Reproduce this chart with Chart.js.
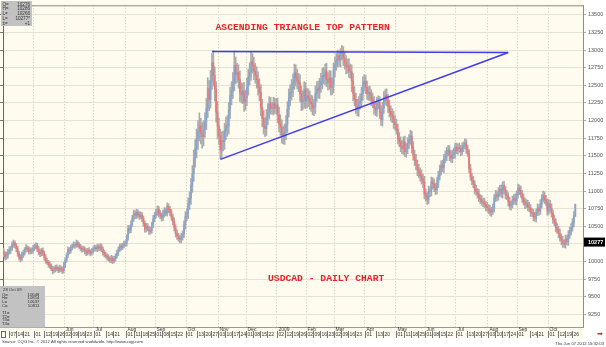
<!DOCTYPE html>
<html><head><meta charset="utf-8">
<script src="https://cdn.jsdelivr.net/npm/chart.js@4.4.1/dist/chart.umd.min.js"></script>
<style>html,body{margin:0;padding:0;background:#fff;}canvas{display:block;}</style>
</head><body>
<canvas id="c" width="606" height="347"></canvas>
<script>
// ---- DATA (USDCAD daily, Apr 2008 - Oct 2009) ----
const firstDay = '2008-04-01';
const lastDay = '2009-10-28';
const holidays = ['2008-12-25', '2009-01-01'];
const emptySlots = 5;

const opens = [
10150,10110,10060,10090,10140,10160,10190,10240,10270,10230,10180,10120,10060,10040,10100,10120,10170,10200,10180,10140,10160,10150,
10190,10210,10230,10180,10130,10110,10160,10120,10060,10010,9990,9960,9940,9900,9870,9890,9920,9900,9880,9910,9890,9870,
9950,10020,10090,10170,10150,10200,10220,10240,10230,10270,10240,10210,10190,10170,10180,10150,10120,10160,10140,10120,10150,
10180,10200,10180,10210,10190,10220,10170,10130,10100,10080,10060,10040,10020,10050,10010,10040,10080,10120,10170,10220,10200,10230,10250,
10260,10340,10470,10450,10530,10610,10680,10650,10700,10670,10640,10660,10610,10540,10460,10500,10470,10430,10440,10520,10610,
10660,10700,10740,10680,10650,10620,10680,10720,10690,10780,10740,10690,10630,10570,10480,10400,10360,10330,10310,10350,10390,10520,
10640,10680,10820,10900,11080,11250,11460,11600,11740,11850,11930,11820,11770,11880,11980,12170,12450,12300,12560,12820,12640,12450,12120,
11920,11780,11580,11720,11700,11850,11930,11920,12150,12350,12420,12540,12780,12650,12680,12580,12400,12360,12420,12260,
12320,12480,12620,12690,12840,12780,12700,12640,12580,12470,12400,12180,12030,11920,11890,12050,12120,12240,12180,12170,12240,12180,
12220,12080,11960,11900,11800,11780,11840,11950,12160,12330,12400,12460,12550,12680,12610,12560,12530,12380,12260,12300,12440,
12280,12350,12310,12260,12240,12180,12200,12380,12450,12420,12500,12560,12640,12620,12700,12580,12540,12600,12470,12500,
12720,12800,12860,12920,12860,12950,12990,12880,12820,12760,12780,12710,12690,12560,12380,12300,12200,12160,12250,12280,12380,12520,
12560,12470,12380,12400,12360,12300,12260,12180,12150,12250,12260,12120,12010,12180,12320,12360,12290,12200,12130,12080,12050,11980,
11940,11880,11750,11700,11640,11600,11700,11560,11600,11680,11730,11780,11620,11510,11440,11370,11300,11260,11220,11170,11130,
10960,10920,10880,11000,10990,11130,11100,11050,11020,11120,11220,11300,11370,11330,11460,11500,11560,11580,11500,11470,11520,11540,
11620,11580,11620,11600,11560,11620,11650,11680,11590,11540,11320,11200,11150,11100,11020,10990,10960,10900,10880,10850,10840,10810,10780,
10760,10740,10700,10720,10760,10900,10950,10920,10990,11030,10960,11080,11020,10950,10930,10850,10790,10810,10870,10900,10860,
10950,11040,11010,10960,10900,10850,10810,10820,10780,10760,10700,10690,10640,10620,10700,10760,10720,10820,10900,10940,10880,10840,
10720,10820,10760,10680,10600,10560,10480,10450,10400,10340,10300,10260,10250,10320,10290,10380,10440,10480,10560,10648
];
const highs = [
10190,10140,10135,10175,10210,10220,10280,10305,10295,10260,10215,10150,10100,10135,10165,10200,10240,10225,10210,10200,10195,10230,
10245,10270,10260,10215,10170,10190,10195,10150,10100,10045,10020,10000,9970,9935,9930,9950,9955,9930,9950,9940,9925,9990,
10055,10120,10210,10200,10235,10250,10280,10270,10305,10295,10270,10245,10220,10220,10210,10185,10190,10200,10170,10185,10210,
10235,10230,10250,10240,10255,10250,10205,10160,10140,10110,10095,10070,10090,10080,10075,10110,10160,10205,10250,10255,10260,10290,10295,
10380,10515,10510,10580,10655,10730,10720,10745,10735,10710,10705,10700,10645,10580,10545,10540,10505,10485,10560,10655,10700,
10745,10790,10780,10725,10690,10730,10765,10760,10835,10820,10785,10740,10675,10620,10525,10450,10400,10375,10400,10435,10580,10710,
10750,10900,10990,11180,11360,11580,11730,11880,12000,12110,12030,11970,12000,12110,12310,12610,12570,12710,12950,12990,12760,12550,12270,
12030,11880,11840,11850,11960,12050,12070,12260,12470,12550,12680,12990,12900,12810,12790,12700,12530,12530,12540,12430,
12600,12730,12820,12980,12950,12900,12810,12760,12690,12590,12510,12300,12140,12040,12160,12240,12340,12330,12260,12330,12320,12310,
12320,12190,12080,12010,11920,11950,12070,12270,12450,12510,12580,12660,12800,12790,12730,12670,12650,12490,12420,12550,12540,
12460,12450,12420,12360,12350,12300,12490,12550,12560,12600,12670,12740,12750,12800,12810,12680,12710,12700,12610,12820,
12900,12950,13000,12990,13020,13065,13050,12970,12920,12870,12880,12800,12790,12670,12480,12390,12300,12340,12380,12470,12620,12650,
12640,12560,12480,12490,12440,12390,12340,12270,12330,12350,12340,12210,12260,12410,12440,12450,12370,12290,12210,12170,12130,12070,
12020,11950,11830,11770,11720,11770,11780,11670,11760,11800,11860,11850,11700,11580,11520,11440,11380,11330,11300,11240,11210,
11030,10980,11070,11060,11200,11190,11170,11110,11190,11280,11370,11430,11440,11520,11570,11620,11650,11640,11570,11580,11610,11680,
11680,11670,11680,11650,11680,11700,11740,11730,11650,11590,11380,11250,11210,11150,11080,11040,11020,10950,10940,10900,10900,10860,10840,
10810,10800,10770,10820,10950,11010,11000,11050,11080,11090,11130,11140,11070,11010,10980,10910,10860,10930,10950,10960,11000,
11100,11090,11070,11010,10960,10900,10880,10870,10840,10810,10760,10740,10700,10750,10820,10810,10880,10950,11000,10990,10940,10890,
10880,10870,10820,10730,10660,10610,10540,10500,10460,10390,10360,10310,10380,10370,10440,10490,10540,10610,10710,10814
];
const lows = [
10070,10025,10030,10050,10105,10115,10160,10200,10195,10140,10075,10020,9995,10010,10060,10090,10135,10140,10105,10110,10110,10120,
10155,10180,10140,10095,10070,10080,10085,10020,9975,9960,9920,9905,9870,9825,9840,9855,9870,9845,9850,9855,9830,9840,
9915,9990,10055,10110,10120,10165,10190,10190,10200,10205,10180,10150,10135,10140,10110,10085,10090,10105,10080,10090,10115,
10145,10150,10140,10160,10155,10140,10090,10065,10050,10020,10005,9990,9985,9970,9980,10005,10050,10085,10140,10160,10170,10195,10220,
10220,10305,10405,10410,10495,10570,10605,10610,10625,10600,10605,10565,10500,10415,10420,10435,10385,10390,10405,10480,10565,
10620,10655,10630,10610,10575,10580,10635,10650,10645,10690,10650,10585,10520,10435,10350,10315,10290,10265,10270,10305,10340,10460,
10580,10610,10740,10810,10980,11140,11340,11470,11590,11710,11670,11610,11640,11760,11870,12040,12140,12180,12440,12490,12280,11980,11740,
11660,11460,11470,11570,11590,11730,11780,11810,12030,12220,12310,12420,12520,12540,12460,12270,12250,12240,12130,12150,
12210,12360,12510,12570,12670,12580,12530,12460,12360,12280,12070,11910,11810,11770,11790,11940,12020,12090,12090,12080,12100,12090,
11970,11840,11790,11680,11670,11660,11730,11830,12050,12210,12290,12340,12440,12490,12450,12410,12270,12140,12150,12180,12170,
12180,12200,12160,12130,12080,12070,12100,12270,12320,12310,12400,12450,12520,12510,12480,12430,12440,12360,12370,12390,
12620,12710,12760,12770,12760,12860,12780,12730,12660,12670,12610,12600,12410,12280,12210,12100,12070,12060,12160,12180,12290,12420,
12380,12300,12290,12280,12210,12180,12090,12070,12060,12170,12030,11930,11920,12100,12230,12210,12110,12050,11990,11970,11890,11860,
11810,11670,11630,11560,11530,11520,11490,11480,11530,11600,11660,11540,11440,11360,11300,11220,11190,11140,11100,11050,10890,
10860,10810,10820,10920,10930,11030,10990,10950,10960,11050,11160,11230,11270,11260,11400,11430,11500,11430,11410,11400,11460,11470,
11530,11520,11550,11500,11510,11560,11600,11530,11490,11260,11150,11090,11050,10960,10940,10900,10850,10820,10800,10780,10760,10720,10710,
10680,10650,10640,10670,10700,10850,10860,10870,10930,10910,10900,10970,10890,10880,10790,10740,10730,10760,10810,10810,10800,
10900,10950,10910,10840,10800,10750,10760,10720,10710,10640,10640,10580,10570,10560,10650,10660,10670,10760,10850,10820,10790,10660,
10670,10700,10630,10540,10510,10420,10400,10340,10290,10240,10200,10200,10190,10240,10230,10330,10380,10430,10500,10637
];
const closes = [
10110,10060,10090,10140,10160,10190,10240,10270,10230,10180,10120,10060,10040,10100,10120,10170,10200,10180,10140,10160,10150,10190,
10210,10230,10180,10130,10110,10160,10120,10060,10010,9990,9960,9940,9900,9870,9890,9920,9900,9880,9910,9890,9870,9950,
10020,10090,10170,10150,10200,10220,10240,10230,10270,10240,10210,10190,10170,10180,10150,10120,10160,10140,10120,10150,10180,
10200,10180,10210,10190,10220,10170,10130,10100,10080,10060,10040,10020,10050,10010,10040,10080,10120,10170,10220,10200,10230,10250,10260,
10340,10470,10450,10530,10610,10680,10650,10700,10670,10640,10660,10610,10540,10460,10500,10470,10430,10440,10520,10610,10660,
10700,10740,10680,10650,10620,10680,10720,10690,10780,10740,10690,10630,10570,10480,10400,10360,10330,10310,10350,10390,10520,10640,
10680,10820,10900,11080,11250,11460,11600,11740,11850,11930,11820,11770,11880,11980,12170,12450,12300,12560,12820,12640,12450,12120,11920,
11780,11580,11720,11700,11850,11930,11920,12150,12350,12420,12540,12780,12650,12680,12580,12400,12360,12420,12260,12320,
12480,12620,12690,12840,12780,12700,12640,12580,12470,12400,12180,12030,11920,11890,12050,12120,12240,12180,12170,12240,12180,12220,
12080,11960,11900,11800,11780,11840,11950,12160,12330,12400,12460,12550,12680,12610,12560,12530,12380,12260,12300,12440,12280,
12350,12310,12260,12240,12180,12200,12380,12450,12420,12500,12560,12640,12620,12700,12580,12540,12600,12470,12500,12720,
12800,12860,12920,12860,12950,12990,12880,12820,12760,12780,12710,12690,12560,12380,12300,12200,12160,12250,12280,12380,12520,12560,
12470,12380,12400,12360,12300,12260,12180,12150,12250,12260,12120,12010,12180,12320,12360,12290,12200,12130,12080,12050,11980,11940,
11880,11750,11700,11640,11600,11700,11560,11600,11680,11730,11780,11620,11510,11440,11370,11300,11260,11220,11170,11130,10960,
10920,10880,11000,10990,11130,11100,11050,11020,11120,11220,11300,11370,11330,11460,11500,11560,11580,11500,11470,11520,11540,11620,
11580,11620,11600,11560,11620,11650,11680,11590,11540,11320,11200,11150,11100,11020,10990,10960,10900,10880,10850,10840,10810,10780,10760,
10740,10700,10720,10760,10900,10950,10920,10990,11030,10960,11080,11020,10950,10930,10850,10790,10810,10870,10900,10860,10950,
11040,11010,10960,10900,10850,10810,10820,10780,10760,10700,10690,10640,10620,10700,10760,10720,10820,10900,10940,10880,10840,10720,
10820,10760,10680,10600,10560,10480,10450,10400,10340,10300,10260,10250,10320,10290,10380,10440,10480,10560,10650,10811
];

const yTicks = [9250,9500,9750,10000,10250,10500,10750,11000,11250,11500,11750,12000,12250,12500,12750,13000,13250,13500];
const yMin = 9073, yMax = 13634;

const trendTopDates = ['2008-10-27', '2009-08-21'];
const trendTopValues = [12980, 12965];
const trendBottomDates = ['2008-11-04', '2009-08-21'];
const trendBottomValues = [11450, 12965];

const titleText = 'ASCENDING TRIANGLE TOP PATTERN';
const subtitleText = 'USDCAD - DAILY CHART';
const lastQuote = 10277;
const quoteLabels = ['O=', 'H=', 'L=', 'L=', '\u00B1='];
const quoteValues = ['10276', '10286', '10266', '10277*', '+1'];
const barInfoDate = '28 Oct 09';
const barInfoLabels = ['O=', 'H=', 'L=', 'C=', '', 'T1=', 'T2=', 'T3=', 'T4='];
const barInfoValues = ['10648', '10814', '10637', '10811', '', '', '', '', ''];
const monthAbbr = ['Jan','Feb','Mar','Apr','May','Jun','Jul','Aug','Sep','Oct','Nov','Dec'];
const sourceText = 'Source: CQG Inc. \u00A9 2012 All rights reserved worldwide. http://www.cqg.com';
const stampText = 'Thu Jun 07 2012 15:32:03';

// ---- calendar of trading days ----
const dates = [];
(function(){
  const a = Date.parse(firstDay + 'T00:00:00Z'), b = Date.parse(lastDay + 'T00:00:00Z');
  for (let t = a; t <= b; t += 86400000) {
    const d = new Date(t), wd = d.getUTCDay();
    if (wd === 0 || wd === 6) continue;
    const s = d.toISOString().slice(0, 10);
    if (holidays.includes(s)) continue;
    dates.push(s);
  }
})();
const labels = dates.concat(Array(emptySlots).fill(''));

const monthFirst = [];
dates.forEach((d, i) => { if (i === 0 || d.slice(0, 7) !== dates[i - 1].slice(0, 7)) monthFirst.push(i); });
const firsts = monthFirst.filter(i => i > 0);
const firstSet = new Set(firsts);
const dayTicks = [];
dates.forEach((d, i) => {
  if (firstSet.has(i)) { dayTicks.push(i); return; }
  if (new Date(d + 'T00:00:00Z').getUTCDay() !== 1) return;
  const prev = firsts.filter(f => f <= i).pop();
  const next = firsts.find(f => f > i);
  if ((prev === undefined || i - prev >= 5) && (next === undefined || next - i >= 5)) dayTicks.push(i);
});

const RED = '#f37373', BLUE = '#84a4d2', GRAY = '#ababab';
const wickData = lows.map((l, k) => [l, highs[k]]);
const bodyData = opens.map((o, k) => [o, closes[k]]);
const bodyColors = opens.map((o, k) => closes[k] >= o ? BLUE : RED);

const decor = {
  id: 'decor',
  beforeDraw(chart) {
    const {ctx, chartArea: a} = chart;
    ctx.save();
    ctx.fillStyle = '#ffffff';
    ctx.fillRect(0, 0, chart.width, chart.height);
    ctx.fillStyle = '#fffbee';
    ctx.fillRect(0, 0, a.right, 338);
    ctx.restore();
  },
  afterDraw(chart) {
    const {ctx, chartArea: a} = chart;
    const xs = chart.scales.x, ys = chart.scales.y;
    const step = (xs.right - xs.left) / labels.length;
    ctx.save();
    // frame
    ctx.strokeStyle = '#8a8a8a'; ctx.lineWidth = 1;
    ctx.beginPath(); ctx.moveTo(a.left, a.top + 0.5); ctx.lineTo(a.right, a.top + 0.5); ctx.stroke();
    ctx.strokeStyle = '#9a9a9a';
    ctx.beginPath(); ctx.moveTo(0, a.bottom + 0.5); ctx.lineTo(a.right, a.bottom + 0.5); ctx.stroke();
    // day row
    ctx.font = '5px "Liberation Sans"';
    ctx.textBaseline = 'middle'; ctx.textAlign = 'left';
    dayTicks.forEach(i => {
      const px = Math.round(xs.getPixelForValue(i) - step / 2) + 0.5;
      ctx.strokeStyle = '#777';
      ctx.beginPath(); ctx.moveTo(px, a.bottom + 4); ctx.lineTo(px, a.bottom + 11); ctx.stroke();
      ctx.fillStyle = '#333';
      ctx.fillText(dates[i].slice(8, 10), px + 1, a.bottom + 7.8);
    });
    // month row
    firsts.forEach(i => {
      const px = Math.round(xs.getPixelForValue(i) - step / 2) + 0.5;
      if (px < 46) return;
      const m = +dates[i].slice(5, 7);
      const txt = m === 1 ? dates[i].slice(0, 4) : monthAbbr[m - 1];
      ctx.fillStyle = '#333';
      ctx.fillText(txt, px + 1, a.bottom + 2.6);
    });
    // white marker box at left of day row
    ctx.fillStyle = '#fff'; ctx.strokeStyle = '#666';
    ctx.fillRect(1.5, a.bottom + 4.5, 4, 6); ctx.strokeRect(1.5, a.bottom + 4.5, 4, 6);
    // titles
    ctx.fillStyle = '#e8232b';
    ctx.font = 'bold 9.7px "Liberation Mono"';
    ctx.fillText(titleText, 215.5, 28);
    ctx.fillText(subtitleText, 268, 278.5);
    // top-left quote box
    ctx.fillStyle = '#c2c2c2';
    ctx.fillRect(1, 1, 31, 25);
    ctx.font = '4.6px "Liberation Sans"';
    quoteLabels.forEach((t, k) => {
      const y = 4.5 + k * 4.7;
      ctx.fillStyle = '#333'; ctx.textAlign = 'left'; ctx.fillText(t, 2.5, y);
      ctx.textAlign = 'right'; ctx.fillText(quoteValues[k], 30, y);
    });
    // bottom-left bar info box
    ctx.fillStyle = '#c2c2c2';
    ctx.fillRect(0, 286, 45, 41.5);
    ctx.font = '4.3px "Liberation Sans"';
    ctx.fillStyle = '#333'; ctx.textAlign = 'left';
    ctx.fillText(barInfoDate, 3, 289.5);
    barInfoLabels.forEach((t, k) => {
      const y = 294.5 + k * 3.65;
      ctx.textAlign = 'left'; ctx.fillText(t, 2, y);
      ctx.textAlign = 'right'; ctx.fillText(barInfoValues[k], 39.5, y);
    });
    // last quote tag on right axis
    const qy = ys.getPixelForValue(lastQuote);
    ctx.fillStyle = '#000';
    ctx.fillRect(a.right + 1, qy - 4.5, 21, 9);
    ctx.fillStyle = '#fff'; ctx.textAlign = 'left'; ctx.font = 'bold 5.5px "Liberation Sans"';
    ctx.fillText(String(lastQuote), a.right + 5, qy + 0.3);
    // footer
    ctx.fillStyle = '#333'; ctx.font = '4.2px "Liberation Sans"'; ctx.textAlign = 'left';
    ctx.fillText(sourceText, 2, 342);
    ctx.textAlign = 'right';
    ctx.fillText(stampText, 604, 343.5);
    ctx.fillStyle = '#e8232b'; ctx.font = '7px "DejaVu Sans"'; ctx.textAlign = 'center';
    ctx.fillText('\u27A1', 600, 334.5);
    ctx.restore();
  }
};

new Chart(document.getElementById('c'), {
  type: 'bar',
  data: {
    labels: labels,
    datasets: [
      { type: 'line', data: trendTopDates.map((d, k) => ({x: d, y: trendTopValues[k]})),
        borderColor: '#3b3bf0', borderWidth: 1.5, pointRadius: 0, fill: false, yAxisID: 'y' },
      { type: 'line', data: trendBottomDates.map((d, k) => ({x: d, y: trendBottomValues[k]})),
        borderColor: '#3b3bf0', borderWidth: 1.5, pointRadius: 0, fill: false, yAxisID: 'y' },
      { type: 'bar', data: bodyData, backgroundColor: bodyColors, barThickness: 1, grouped: false, yAxisID: 'y' },
      { type: 'bar', data: wickData, backgroundColor: GRAY, barThickness: 1, grouped: false, yAxisID: 'y' }
    ]
  },
  options: {
    responsive: false, animation: false, devicePixelRatio: 1,
    layout: { padding: { left: 0, right: 0, top: 3, bottom: 20 } },
    plugins: { legend: { display: false }, tooltip: { enabled: false }, title: { display: false } },
    scales: {
      x: {
        type: 'category', offset: true,
        grid: { offset: true, drawTicks: false, lineWidth: 1,
          color: c => firstSet.has(c.index) ? '#c9c3b3' : 'rgba(0,0,0,0)' },
        border: { display: false, dash: [1, 2] },
        ticks: { display: false },
        afterFit: s => { s.height = 0; }
      },
      y: {
        position: 'right', min: yMin, max: yMax,
        afterBuildTicks: s => { s.ticks = yTicks.map(v => ({value: v})); },
        afterFit: s => { s.width = 23; },
        grid: { color: '#e6e1d4', tickLength: 3, tickColor: '#aaa' },
        border: { color: '#8c8c8c' },
        ticks: { autoSkip: false, padding: 2, color: '#555', font: { family: 'Liberation Sans', size: 5.5 }, callback: v => String(v) }
      },
      yl: {
        position: 'left', min: yMin, max: yMax,
        afterBuildTicks: s => { s.ticks = yTicks.map(v => ({value: v})); },
        afterFit: s => { s.width = 3; },
        grid: { drawOnChartArea: false, tickLength: 3, tickColor: '#777' },
        border: { color: '#666' },
        ticks: { display: false }
      }
    }
  },
  plugins: [decor]
});
</script>
</body></html>
